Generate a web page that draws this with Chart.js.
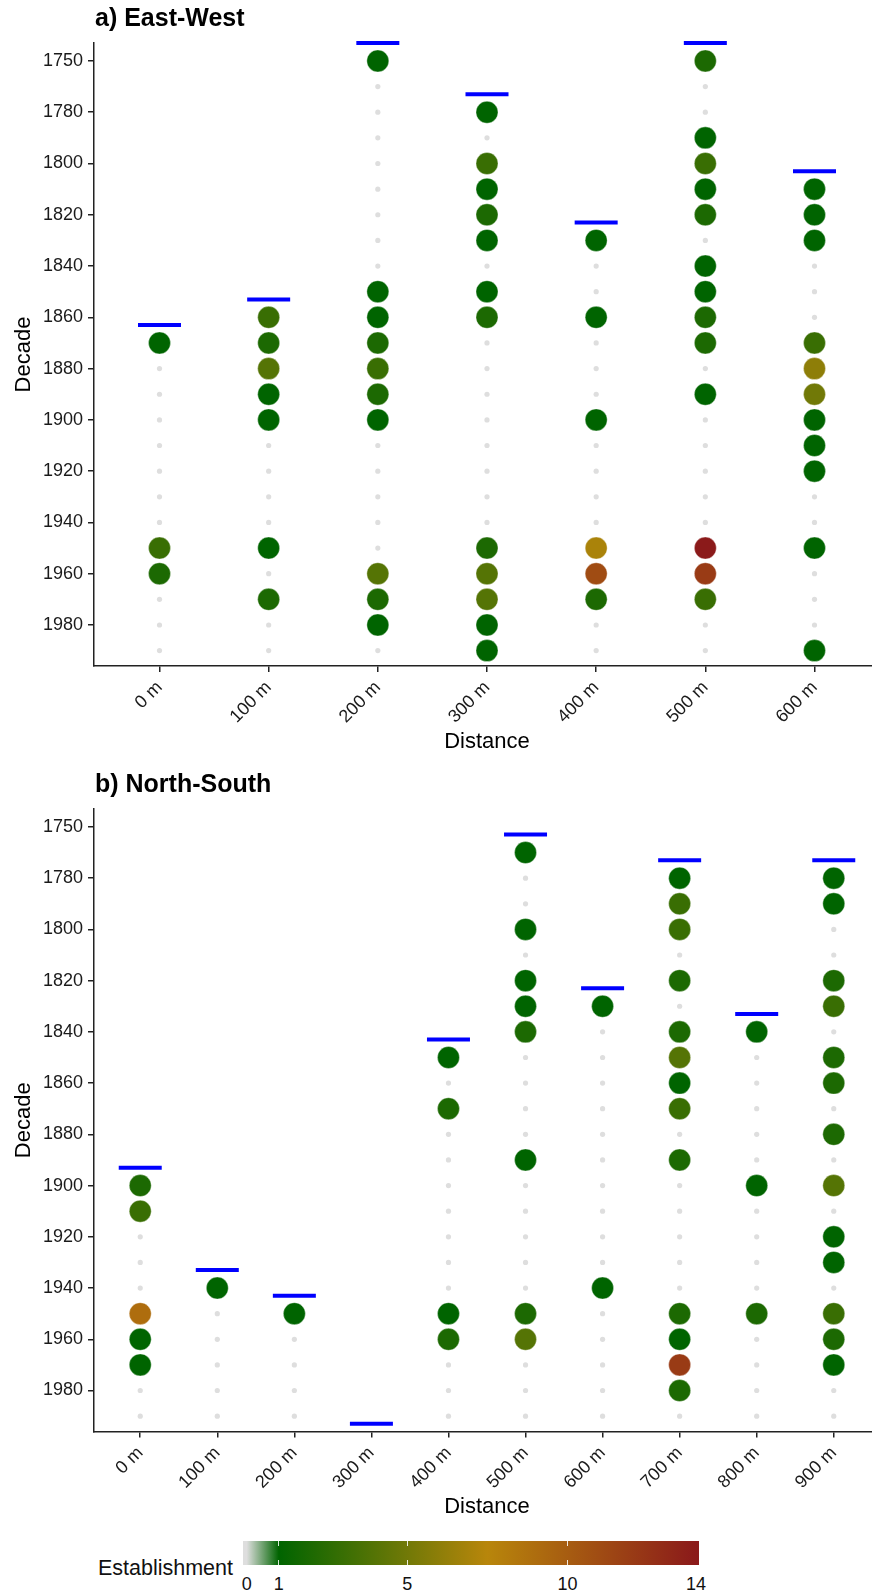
<!DOCTYPE html>
<html>
<head>
<meta charset="utf-8">
<title>Establishment by decade and distance</title>
<script src="https://cdn.jsdelivr.net/npm/chart.js@4.4.1/dist/chart.umd.min.js"></script>
<style>
  html, body { margin: 0; padding: 0; background: #fff; overflow: hidden; }
  body { width: 872px; height: 1595px; position: relative; font-family: "Liberation Sans", Arial, sans-serif; }
  canvas { position: absolute; left: 0; }
  #ew { top: 0; }
  #ns { top: 760px; }
  .lg { position: absolute; color: #111; white-space: nowrap; }
</style>
</head>
<body>
<canvas id="ew" width="880" height="760"></canvas>
<canvas id="ns" width="880" height="770"></canvas>
<div id="legend"></div>
<script>
// Sampled decades (rows). The 1750 row collects every tree older than 1770.
const decades = [1750, 1770, 1780, 1790, 1800, 1810, 1820, 1830, 1840, 1850, 1860, 1870,
                 1880, 1890, 1900, 1910, 1920, 1930, 1940, 1950, 1960, 1970, 1980, 1990];
const yTickLabels = [1750, 1780, 1800, 1820, 1840, 1860, 1880, 1900, 1920, 1940, 1960, 1980];

// a) East-West transect
const ewDistances = ['0 m', '100 m', '200 m', '300 m', '400 m', '500 m', '600 m'];
const ewFirst = [1863, 1853, 1753, 1773, 1823, 1753, 1803];   // blue bars
const ewYears = [
  [1870, 1950, 1960],
  [1860, 1870, 1880, 1890, 1900, 1950, 1970],
  [1750, 1850, 1860, 1870, 1880, 1890, 1900, 1960, 1970, 1980],
  [1780, 1800, 1810, 1820, 1830, 1850, 1860, 1950, 1960, 1970, 1980, 1990],
  [1830, 1860, 1900, 1950, 1960, 1970],
  [1750, 1790, 1800, 1810, 1820, 1840, 1850, 1860, 1870, 1890, 1950, 1960, 1970],
  [1810, 1820, 1830, 1870, 1880, 1890, 1900, 1910, 1920, 1950, 1990]
];
const ewCounts = [
  [1, 3, 2],
  [3, 2, 4, 1, 1, 1, 2],
  [1, 1, 1, 2, 3, 2, 1, 4, 2, 1],
  [1, 3, 1, 2, 1, 1, 2, 2, 4, 4, 1, 1],
  [1, 1, 1, 7, 11, 2],
  [2, 1, 3, 1, 2, 1, 1, 2, 2, 1, 14, 12, 3],
  [1, 1, 1, 3, 6, 5, 1, 1, 1, 1, 1]
];

// b) North-South transect
const nsDistances = ['0 m', '100 m', '200 m', '300 m', '400 m', '500 m', '600 m', '700 m', '800 m', '900 m'];
const nsFirst = [1893, 1933, 1943, 1993, 1843, 1763, 1823, 1773, 1833, 1773];
const nsYears = [
  [1900, 1910, 1950, 1960, 1970],
  [1940],
  [1950],
  [],
  [1850, 1870, 1950, 1960],
  [1770, 1800, 1820, 1830, 1840, 1890, 1950, 1960],
  [1830, 1940],
  [1780, 1790, 1800, 1820, 1840, 1850, 1860, 1870, 1890, 1950, 1960, 1970, 1980],
  [1840, 1900, 1950],
  [1780, 1790, 1820, 1830, 1850, 1860, 1880, 1900, 1920, 1930, 1950, 1960, 1970]
];
const nsCounts = [
  [2, 3, 9, 1, 1],
  [1],
  [1],
  [],
  [1, 2, 1, 2],
  [1, 1, 1, 1, 2, 1, 2, 4],
  [1, 1],
  [1, 3, 3, 2, 2, 4, 1, 3, 2, 2, 1, 12, 2],
  [1, 1, 2],
  [1, 1, 2, 3, 2, 2, 2, 4, 1, 1, 3, 2, 1]
];

const legendTicks = [0, 1, 5, 10, 14];

// colour scale for the number of trees established per decade
const colourStops = [[0, '#dedede'], [1, '#006400'], [7.5, '#b8860b'], [14, '#8b1a1a']];
const FONT = '"Liberation Sans", Arial, sans-serif';

function hexToRgb(h) {
  return [parseInt(h.slice(1, 3), 16), parseInt(h.slice(3, 5), 16), parseInt(h.slice(5, 7), 16)];
}
function colourFor(n) {
  if (n <= colourStops[0][0]) return colourStops[0][1];
  for (let i = 1; i < colourStops.length; i++) {
    const [v1, c1] = colourStops[i];
    const [v0, c0] = colourStops[i - 1];
    if (n <= v1) {
      const t = (n - v0) / (v1 - v0);
      const a = hexToRgb(c0), b = hexToRgb(c1);
      const m = a.map((x, k) => Math.round(x + (b[k] - x) * t));
      return `rgb(${m[0]},${m[1]},${m[2]})`;
    }
  }
  return colourStops[colourStops.length - 1][1];
}

// the pre-1770 bin is drawn in the row just above 1770
function slotOf(d) { return d === 1750 ? 1760 : d; }

const panelText = {
  id: 'panelText',
  afterDraw(chart, args, o) {
    const { ctx, chartArea: a } = chart;
    ctx.save();
    ctx.fillStyle = '#000';
    ctx.textBaseline = 'middle';
    ctx.textAlign = 'left';
    ctx.font = `bold 25px ${FONT}`;
    ctx.fillText(o.title, a.left + 1, a.top - 24);
    ctx.font = `22px ${FONT}`;
    ctx.textAlign = 'center';
    ctx.fillText('Distance', (a.left + a.right) / 2, a.bottom + 75.5);
    ctx.translate(24, (a.top + a.bottom) / 2);
    ctx.rotate(-Math.PI / 2);
    ctx.fillText('Decade', 0, 0);
    ctx.restore();
  }
};

function buildPanel(id, title, distances, first, years, counts, padTop, axisHeight) {
  const est = [], empty = [], marks = [];
  distances.forEach((_, i) => {
    marks.push({ x: i, y: first[i] });
    years[i].forEach((d, j) => est.push({ x: i, y: slotOf(d), n: counts[i][j] }));
    decades.forEach(d => {
      if (slotOf(d) > first[i] && !years[i].includes(d)) empty.push({ x: i, y: slotOf(d), n: 0 });
    });
  });

  const axisLine = { display: true, color: '#222', width: 1.5 };
  const tickGrid = { drawOnChartArea: false, drawTicks: true, tickLength: 6, color: '#222', lineWidth: 1.5 };

  return new Chart(document.getElementById(id), {
    type: 'scatter',
    data: {
      datasets: [
        { data: est, order: 0, clip: false, pointRadius: 11, pointHoverRadius: 11,
          backgroundColor: c => colourFor(c.raw ? c.raw.n : 0),
          borderColor: 'rgba(255,255,255,0.35)', borderWidth: 1 },
        { data: marks, order: 1, clip: false, pointStyle: 'line', pointRadius: 21.5,
          pointHoverRadius: 21.5, borderColor: '#0000ff', borderWidth: 4 },
        { data: empty, order: 2, clip: false, pointRadius: 2.6, pointHoverRadius: 2.6,
          backgroundColor: colourFor(0), borderWidth: 0 }
      ]
    },
    options: {
      responsive: false,
      animation: false,
      events: [],
      layout: { autoPadding: false, padding: { top: padTop, left: 0, right: 0, bottom: 0 } },
      plugins: {
        legend: { display: false },
        tooltip: { enabled: false },
        panelText: { title }
      },
      scales: {
        x: {
          type: 'linear', min: -0.6, max: distances.length - 0.4,
          afterBuildTicks: s => { s.ticks = distances.map((_, i) => ({ value: i })); },
          afterFit: s => { s.height = axisHeight; s.paddingLeft = 0; s.paddingRight = 0; },
          ticks: {
            callback: v => distances[v], autoSkip: false, minRotation: 45, maxRotation: 45,
            padding: 5, color: '#1a1a1a', font: { family: FONT, size: 18 }
          },
          grid: tickGrid, border: axisLine
        },
        y: {
          type: 'linear', reverse: true, min: 1753, max: 1996,
          afterBuildTicks: s => { s.ticks = yTickLabels.map(d => ({ value: slotOf(d) })); },
          afterFit: s => { s.width = 94; s.paddingTop = 0; s.paddingBottom = 0; },
          ticks: {
            callback: (v, i) => String(yTickLabels[i]), autoSkip: false, padding: 5,
            color: '#1a1a1a', font: { family: FONT, size: 18 }
          },
          grid: tickGrid, border: axisLine
        }
      }
    },
    plugins: [panelText]
  });
}

buildPanel('ew', 'a) East-West', ewDistances, ewFirst, ewYears, ewCounts, 43, 94);
buildPanel('ns', 'b) North-South', nsDistances, nsFirst, nsYears, nsCounts, 49, 98.5);

// colour bar legend
(function () {
  const root = document.getElementById('legend');
  const barLeft = 243, barTop = 1541, barW = 456, barH = 24;
  const v0x = 246.7, perUnit = 32.09;
  const xOf = v => v0x + v * perUnit;
  const pct = v => ((xOf(v) - barLeft) / barW * 100).toFixed(2) + '%';

  const grad = colourStops.map(([v, c]) => `${c} ${pct(v)}`).join(', ');
  const bar = document.createElement('div');
  bar.style.cssText = `position:absolute;left:${barLeft}px;top:${barTop}px;width:${barW}px;height:${barH}px;` +
    `background:linear-gradient(to right, ${grad});`;
  root.appendChild(bar);

  legendTicks.filter(v => v > 0 && v < 14).forEach(v => {
    [barTop, barTop + barH - 5].forEach(t => {
      const m = document.createElement('div');
      m.style.cssText = `position:absolute;left:${xOf(v) - 0.5}px;top:${t}px;width:1px;height:5px;background:rgba(255,255,255,0.85);`;
      root.appendChild(m);
    });
  });

  legendTicks.forEach(v => {
    const s = document.createElement('div');
    s.className = 'lg';
    s.textContent = String(v);
    s.style.cssText += `left:${xOf(v)}px;top:1574.8px;font-size:18px;line-height:18px;transform:translateX(-50%);`;
    root.appendChild(s);
  });

  const t = document.createElement('div');
  t.className = 'lg';
  t.textContent = 'Establishment';
  t.style.cssText += 'left:0;width:233px;text-align:right;top:1556.5px;font-size:21.5px;line-height:22px;';
  root.appendChild(t);
})();
</script>
</body>
</html>
